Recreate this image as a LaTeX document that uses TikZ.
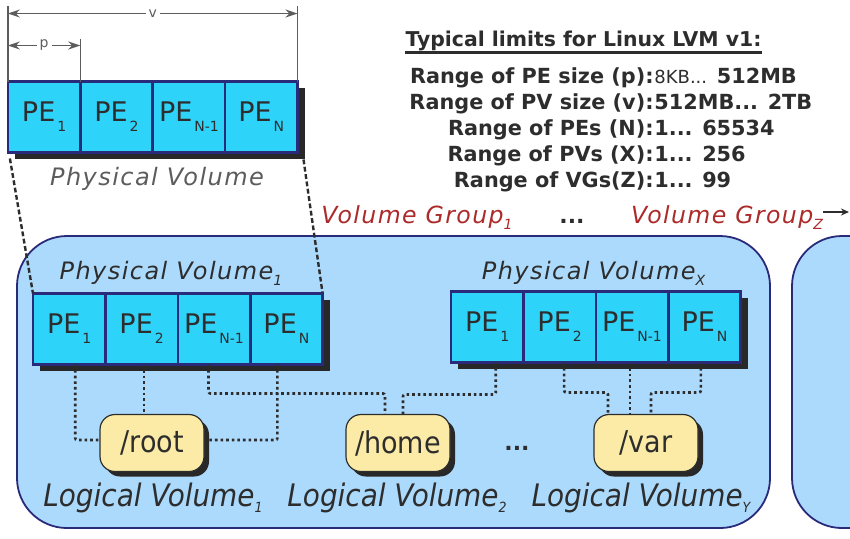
\documentclass[tikz,border=0pt]{standalone}
\usepackage{fontspec}
\setmainfont{DejaVu Sans}
\newfontfamily\lblfont[LetterSpace=6]{DejaVu Sans}
\newfontfamily\lvfont{DejaVu Sans Condensed}
\usetikzlibrary{positioning,calc,shadows,arrows.meta}

\definecolor{pecyan}{RGB}{46,211,250}
\definecolor{penavy}{RGB}{42,42,122}
\definecolor{vgblue}{RGB}{172,218,252}
\definecolor{lvyellow}{RGB}{251,235,166}
\definecolor{vgred}{RGB}{172,42,42}
\definecolor{txtgray}{RGB}{45,45,45}
\definecolor{midgray}{RGB}{92,92,92}
\definecolor{shadowgray}{RGB}{40,40,40}

\newcommand{\pesub}[1]{\hspace{1pt}\raisebox{-5pt}{\fontsize{7}{7}\selectfont #1}}
\newcommand{\lblsub}[1]{\raisebox{-3pt}{\fontsize{7}{7}\selectfont #1}}

\begin{document}
\begin{tikzpicture}[x=0.5pt,y=-0.5pt,
    pecell/.style={draw=penavy, line width=1.3pt, fill=pecyan, outer sep=0pt, inner sep=0pt,
        minimum width=36.2pt, minimum height=35.5pt, text=txtgray,
        font=\fontsize{13.5}{13}\selectfont,
        drop shadow={shadow xshift=3.5pt, shadow yshift=-3pt, fill=shadowgray, opacity=1}},
    lvbox/.style={draw=txtgray, line width=0.6pt, fill=lvyellow, rounded corners=7.5pt,
        minimum width=52pt, minimum height=28.5pt, inner sep=0pt, text=txtgray,
        font=\lvfont\fontsize{15}{15}\selectfont,
        drop shadow={shadow xshift=2.5pt, shadow yshift=-2.5pt, fill=shadowgray, opacity=1}},
    pvlabel/.style={anchor=base, inner sep=0pt, text=txtgray, font=\lblfont\itshape\fontsize{12}{12}\selectfont},
    lvlabel/.style={anchor=base, inner sep=0pt, text=txtgray, font=\lvfont\itshape\fontsize{15.5}{15}\selectfont},
    vglabel/.style={anchor=base, inner sep=0pt, text=vgred, font=\lblfont\itshape\fontsize{11.8}{12}\selectfont},
    dotstext/.style={anchor=base, inner sep=0pt, text=txtgray, font=\bfseries\fontsize{11}{12}\selectfont},
    limtext/.style={inner sep=0pt, text=txtgray, font=\bfseries\fontsize{10.4}{12}\selectfont},
    vgbox/.style={draw=penavy, line width=0.9pt, fill=vgblue, rounded corners=25pt},
    link/.style={draw=txtgray, line width=1.3pt, dash pattern=on 1.3pt off 1.5pt, rounded corners=1pt},
    zoomline/.style={draw=txtgray, line width=1.2pt, dash pattern=on 2.4pt off 1.3pt},
    dimline/.style={draw=midgray, line width=0.6pt},
    dimarrow/.style={draw=midgray, line width=0.8pt, {Stealth[length=6pt,width=4pt]}-{Stealth[length=6pt,width=4pt]}},
    dimlabel/.style={fill=white, inner sep=1.5pt, text=midgray, font=\fontsize{7}{7}\selectfont}]
    \clip (0,0) rectangle (850,538);

    % Volume groups
    \draw[vgbox] (17,236) rectangle (770,528);
    \draw[vgbox] (792,236) rectangle (900,528);

    % Limits table
    \node[limtext, anchor=base, font=\bfseries\fontsize{10.2}{12}\selectfont] (limtitle) at (583.5,46) {Typical limits for Linux LVM v1:};
    \draw[txtgray, line width=1.2pt] ([yshift=-3.2pt]limtitle.base west) -- ([yshift=-3.2pt]limtitle.base east);
    \foreach \y/\lhs/\rhs [count=\i] in {
        83/{Range of PE size (p):}/{{\mdseries\fontsize{9}{10}\selectfont 8KB...} 512MB},
        109/{Range of PV size (v):}/{512MB... 2TB},
        135/{Range of PEs (N):}/{1... 65534},
        161/{Range of PVs (X):}/{1... 256},
        187/{Range of VGs(Z):}/{1... 99}} {
        \node[limtext, anchor=base east] (lima\i) at (654,\y) {\lhs};
        \node[limtext, anchor=base west] (limb\i) at (654,\y) {\rhs};
    }

    % Single physical volume
    \node[pecell] (tp1) at (44.1,117) {PE\pesub{1}};
    \node[pecell, right=0pt of tp1] (tp2) {PE\pesub{2}};
    \node[pecell, right=0pt of tp2] (tp3) {PE\pesub{N-1}};
    \node[pecell, right=0pt of tp3] (tp4) {PE\pesub{N}};
    \node[pvlabel, text=midgray] (tplabel) at (157,185) {Physical Volume};

    % Sizes p and v
    \draw[dimline] (tp1.north west) -- ++(0,-76);
    \draw[dimline] (tp4.north east) -- ++(0,-76);
    \draw[dimline] (tp1.north east) -- ++(0,-43);
    \draw[dimarrow] ([yshift=34pt]tp1.north west) -- node[dimlabel] (vsize) {v} ([yshift=34pt]tp4.north east);
    \draw[dimarrow] ([yshift=18pt]tp1.north west) -- node[dimlabel] (psize) {p} ([yshift=18pt]tp1.north east);

    % Group labels
    \node[vglabel] (vg1) at (417,223) {Volume Group\lblsub{1}};
    \node[dotstext] (vgdots) at (572,223) {...};
    \node[vglabel] (vgz) at (727,223) {Volume Group\lblsub{Z}};
    \coordinate (vgnext) at (849,212);
    \draw[txtgray, line width=0.8pt, -{Stealth[length=4pt,width=3.5pt]}] (vgz.east |- vgnext) -- (vgnext);

    % Physical volume 1
    \node[pvlabel] (pv1label) at (171,279) {Physical Volume\lblsub{1}};
    \node[pecell] (pa1) at (69.2,329) {PE\pesub{1}};
    \node[pecell, right=0pt of pa1] (pa2) {PE\pesub{2}};
    \node[pecell, right=0pt of pa2] (pa3) {PE\pesub{N-1}};
    \node[pecell, right=0pt of pa3] (pa4) {PE\pesub{N}};

    % Physical volume X
    \node[pvlabel] (pvxlabel) at (593.5,279) {Physical Volume\lblsub{X}};
    \node[pecell] (px1) at (487.2,327) {PE\pesub{1}};
    \node[pecell, right=0pt of px1] (px2) {PE\pesub{2}};
    \node[pecell, right=0pt of px2] (px3) {PE\pesub{N-1}};
    \node[pecell, right=0pt of px3] (px4) {PE\pesub{N}};

    % Zoom from the single volume
    \draw[zoomline] ([xshift=1pt,yshift=-3pt]tp1.south west) -- (pa1.north west);
    \draw[zoomline] ([xshift=3pt,yshift=-3.5pt]tp4.south east) -- (pa4.north east);

    % Logical volumes
    \node[lvbox] (root) at (152,443) {/root};
    \node[lvbox] (home) at (398,443) {/home};
    \node[lvbox] (var) at (646,443) {/var};
    \node[dotstext] (lvdots) at (517,450) {...};
    \node[lvlabel] (lv1) at (153,506) {Logical Volume\lblsub{1}};
    \node[lvlabel] (lv2) at (397,506) {Logical Volume\lblsub{2}};
    \node[lvlabel] (lvy) at (641,506) {Logical Volume\lblsub{Y}};

    % Extent to volume links
    \coordinate (rootin) at ([xshift=-4pt]root.north);
    \coordinate (homeina) at ([xshift=-6.5pt]home.north);
    \coordinate (homeinb) at ([xshift=2.5pt]home.north);
    \coordinate (varina) at ([xshift=-19pt]var.north);
    \coordinate (varinb) at ([xshift=-8pt]var.north);
    \coordinate (varinc) at ([xshift=2.5pt]var.north);
    \draw[link] ([xshift=3pt]pa1.south) |- ([yshift=1.5pt]root.west);
    \draw[link] (rootin |- pa2.south) -- (rootin);
    \draw[link] ([xshift=-4.5pt]pa4.south) |- ([yshift=1.5pt]root.east);
    \draw[link] ([xshift=-2.75pt]pa3.south) -- ++(0,29) -| (homeina);
    \draw[link] ([xshift=4.25pt]px1.south) -- ++(0,32) -| (homeinb);
    \draw[link] ([xshift=2.25pt]px2.south) -- ++(0,30) -| (varina);
    \draw[link] (varinb |- px3.south) -- (varinb);
    \draw[link] ([xshift=-1.75pt]px4.south) -- ++(0,30) -| (varinc);
\end{tikzpicture}
\end{document}
